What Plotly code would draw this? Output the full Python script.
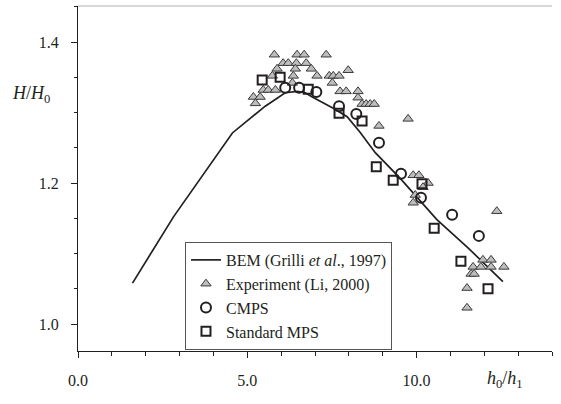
import plotly.graph_objects as go

# BEM (Grilli et al., 1997)
bem_x = [1.61, 2.82, 4.56, 5.53, 6.12, 6.48, 6.71, 6.92, 7.54, 7.95, 8.33, 8.78, 9.51, 10.6, 11.52, 12.55]
bem_y = [1.058, 1.152, 1.271, 1.309, 1.328, 1.330, 1.328, 1.322, 1.306, 1.294, 1.272, 1.243, 1.207, 1.148, 1.108, 1.060]

# Experiment (Li, 2000)
exp_x = [5.80, 6.47, 6.68, 7.33, 6.06, 6.21, 6.45, 6.74, 5.88, 6.42, 6.89, 7.98, 5.74, 6.36, 7.06, 7.42,
         7.54, 7.71, 6.33, 7.51, 5.47, 5.62, 5.83, 7.74, 7.92, 8.27, 5.18, 5.38, 8.27, 5.24, 8.39, 8.51,
         8.63, 8.75, 8.89, 9.75, 9.90, 10.07, 10.34, 10.19, 9.96, 9.90, 12.37, 11.96, 12.20, 11.67, 11.90,
         12.20, 12.58, 11.61, 11.70, 11.49, 11.49]
exp_y = [1.382, 1.382, 1.382, 1.382, 1.370, 1.370, 1.370, 1.370, 1.362, 1.362, 1.362, 1.360, 1.352, 1.352, 1.352, 1.352,
         1.352, 1.352, 1.342, 1.342, 1.332, 1.332, 1.332, 1.330, 1.330, 1.330, 1.322, 1.322, 1.321, 1.313, 1.312, 1.312,
         1.312, 1.312, 1.281, 1.291, 1.211, 1.211, 1.200, 1.194, 1.183, 1.172, 1.160, 1.091, 1.091, 1.081, 1.081,
         1.081, 1.081, 1.071, 1.071, 1.051, 1.023]

# CMPS
cmps_x = [6.12, 6.53, 7.04, 7.71, 8.22, 8.89, 9.54, 10.13, 11.05, 11.84]
cmps_y = [1.335, 1.335, 1.329, 1.309, 1.298, 1.257, 1.213, 1.179, 1.155, 1.125]

# Standard MPS
mps_x = [5.44, 5.97, 6.80, 7.71, 8.39, 8.81, 9.31, 10.16, 10.52, 11.31, 12.11]
mps_y = [1.346, 1.350, 1.333, 1.299, 1.288, 1.223, 1.204, 1.199, 1.136, 1.089, 1.050]

x_ticks = [0, 5, 10]
x_ticktext = ["0.0", "5.0", "10.0"]
y_ticks = [1.0, 1.2, 1.4]
y_ticktext = ["1.0", "1.2", "1.4"]

FONT = "Liberation Serif"
INK = "#231f20"

fig = go.Figure()
fig.add_trace(go.Scatter(x=bem_x, y=bem_y, mode="lines",
                         line=dict(color=INK, width=1.7),
                         name="BEM (Grilli <i>et al</i>., 1997)"))
fig.add_trace(go.Scatter(x=exp_x, y=exp_y, mode="markers",
                         marker=dict(symbol="triangle-up", size=9, color="#bdbdbd",
                                     line=dict(color="#3a3a3a", width=1)),
                         name="Experiment (Li, 2000)"))
fig.add_trace(go.Scatter(x=cmps_x, y=cmps_y, mode="markers",
                         marker=dict(symbol="circle-open", size=10, color=INK,
                                     line=dict(color=INK, width=2)),
                         name="CMPS"))
fig.add_trace(go.Scatter(x=mps_x, y=mps_y, mode="markers",
                         marker=dict(symbol="square-open", size=9, color=INK,
                                     line=dict(color=INK, width=2)),
                         name="Standard MPS"))

fig.update_layout(
    width=561, height=404,
    margin=dict(l=78, r=9, t=6, b=53),
    paper_bgcolor="white", plot_bgcolor="white",
    font=dict(family=FONT, color=INK, size=16),
    showlegend=True,
    legend=dict(x=0.2257, y=0.316, xanchor="left", yanchor="top",
                bordercolor="#555", borderwidth=1, bgcolor="white",
                font=dict(family=FONT, size=16, color=INK),
                itemsizing="trace", tracegroupgap=0),
    xaxis=dict(range=[0, 14], tickmode="array", tickvals=x_ticks, ticktext=x_ticktext,
               showgrid=False, zeroline=False, showline=True, linecolor=INK, linewidth=1,
               ticks="outside", ticklen=6, tickcolor=INK, ticklabelstandoff=9,
               minor=dict(tickmode="linear", tick0=0, dtick=1, ticks="outside",
                          ticklen=4, tickcolor=INK, showgrid=False),
               tickfont=dict(family=FONT, size=16, color=INK)),
    yaxis=dict(range=[0.9617, 1.4511], tickmode="array", tickvals=y_ticks, ticktext=y_ticktext,
               showgrid=False, zeroline=False, showline=True, linecolor=INK, linewidth=1,
               ticks="outside", ticklen=6, tickcolor=INK, ticklabelstandoff=9,
               minor=dict(tickmode="linear", tick0=1.0, dtick=0.05, ticks="outside",
                          ticklen=3, tickcolor=INK, showgrid=False),
               tickfont=dict(family=FONT, size=16, color=INK)),
    shapes=[dict(type="line", xref="paper", yref="paper", x0=0, x1=1, y0=1, y1=1,
                 line=dict(color="#b0b0b0", width=1))],
    annotations=[
        dict(text="<i>H</i>/<i>H</i><sub>0</sub>", xref="paper", yref="y",
             x=-0.099, y=1.325, xanchor="center", yanchor="middle", showarrow=False,
             font=dict(family=FONT, size=18, color=INK)),
        dict(text="<i>h</i><sub>0</sub>/<i>h</i><sub>1</sub>", xref="paper", yref="paper",
             x=0.901, y=-0.084, xanchor="center", yanchor="middle", showarrow=False,
             font=dict(family=FONT, size=18, color=INK)),
    ],
)

fig.write_html("out.html")
